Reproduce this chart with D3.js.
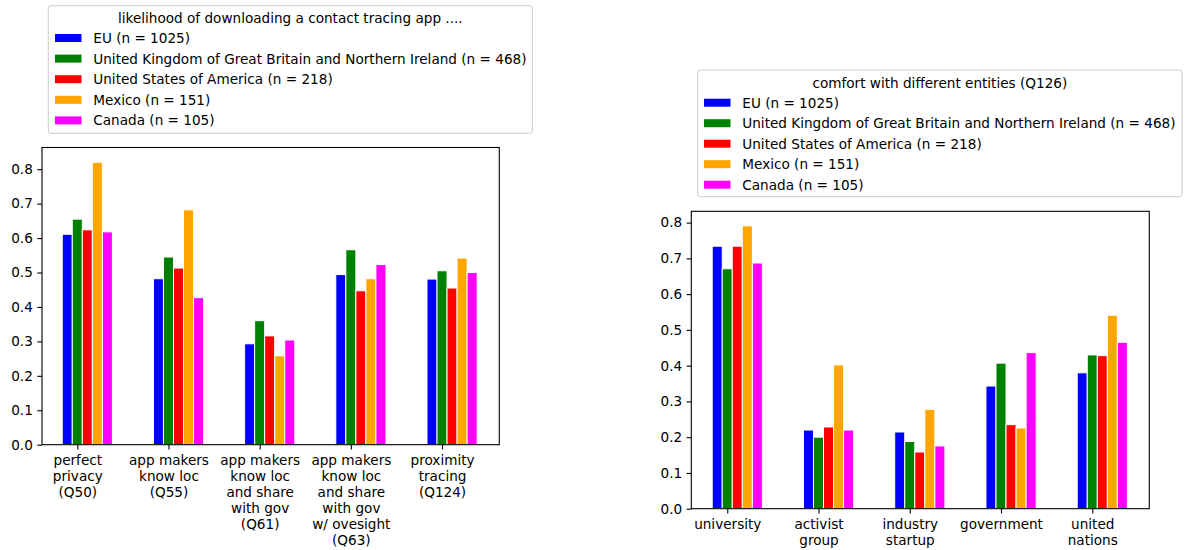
<!DOCTYPE html>
<html>
<head>
<meta charset="utf-8">
<script src="https://cdn.jsdelivr.net/npm/d3@7"></script>
<style>
  html, body { margin: 0; padding: 0; background: #fff; }
  svg text { font-family: "DejaVu Sans", sans-serif; }
</style>
</head>
<body>
<svg id="chart" width="1185" height="550"></svg>
<script>
// ---------- data ----------
const seriesNames = [
  "EU (n = 1025)",
  "United Kingdom of Great Britain and Northern Ireland (n = 468)",
  "United States of America (n = 218)",
  "Mexico (n = 151)",
  "Canada (n = 105)"
];
const seriesColors = ["#0000ff", "#008000", "#ff0000", "#ffa500", "#ff00ff"];

const leftTitle = "likelihood of downloading a contact tracing app ....";
const leftCategories = [
  ["perfect", "privacy", "(Q50)"],
  ["app makers", "know loc", "(Q55)"],
  ["app makers", "know loc", "and share", "with gov", "(Q61)"],
  ["app makers", "know loc", "and share", "with gov", "w/ ovesight", "(Q63)"],
  ["proximity", "tracing", "(Q124)"]
];
// values per series (EU, UK, USA, Mexico, Canada), one entry per category
const leftEU     = [0.611, 0.482, 0.293, 0.494, 0.481];
const leftUK     = [0.655, 0.545, 0.360, 0.566, 0.505];
const leftUSA    = [0.624, 0.513, 0.316, 0.447, 0.455];
const leftMexico = [0.820, 0.682, 0.258, 0.482, 0.542];
const leftCanada = [0.618, 0.427, 0.304, 0.523, 0.500];

const rightTitle = "comfort with different entities (Q126)";
const rightCategories = [
  ["university"],
  ["activist", "group"],
  ["industry", "startup"],
  ["government"],
  ["united", "nations"]
];
const rightEU     = [0.734, 0.220, 0.2145, 0.343, 0.380];
const rightUK     = [0.671, 0.200, 0.188, 0.407, 0.430];
const rightUSA    = [0.734, 0.2285, 0.1585, 0.235, 0.428];
const rightMexico = [0.791, 0.402, 0.278, 0.2257, 0.541];
const rightCanada = [0.687, 0.220, 0.1755, 0.4365, 0.4654];

const yTicks = [0, 0.1, 0.2, 0.3, 0.4, 0.5, 0.6, 0.7, 0.8];

// ---------- drawing ----------
const svg = d3.select("#chart");
const FONT = 13.6;
const BARW = 0.11;

function drawPanel(cfg) {
  const g = svg.append("g");
  const x = d3.scaleLinear().domain(cfg.xDomain).range([cfg.left, cfg.right]);
  const y = d3.scaleLinear().domain([0, cfg.yMax]).range([cfg.bottom, cfg.top]);

  // bars
  cfg.series.forEach((vals, k) => {
    g.append("g").selectAll("rect").data(vals).join("rect")
      .attr("x", (d, i) => x(i + (k - 1) * BARW - BARW / 2))
      .attr("width", x(BARW) - x(0))
      .attr("y", d => y(d))
      .attr("height", d => y(0) - y(d))
      .attr("fill", seriesColors[k])
      .attr("stroke", "#fff")
      .attr("stroke-width", 1);
  });

  // frame
  g.append("rect")
    .attr("x", cfg.left).attr("y", cfg.top)
    .attr("width", cfg.right - cfg.left).attr("height", cfg.bottom - cfg.top)
    .attr("fill", "none").attr("stroke", "#000").attr("stroke-width", 1.1);

  // y axis
  const ya = g.append("g").attr("transform", `translate(${cfg.left},0)`)
    .call(d3.axisLeft(y).tickValues(yTicks).tickFormat(d3.format(".1f"))
      .tickSizeOuter(0).tickSize(4.7).tickPadding(4.5));
  ya.select(".domain").remove();
  ya.selectAll("text").attr("font-size", FONT).attr("fill", "#000").attr("font-family", "DejaVu Sans");
  ya.selectAll("line").attr("stroke", "#000").attr("stroke-width", 1.1);

  // x axis
  const xa = g.append("g").attr("transform", `translate(0,${cfg.bottom})`)
    .call(d3.axisBottom(x).tickValues(d3.range(cfg.categories.length))
      .tickFormat("").tickSizeOuter(0).tickSize(4.7));
  xa.select(".domain").remove();
  xa.selectAll("line").attr("stroke", "#000").attr("stroke-width", 1.1);
  xa.selectAll(".tick").each(function(d) {
    const t = d3.select(this).select("text")
      .attr("font-size", FONT).attr("fill", "#000").attr("font-family", "DejaVu Sans")
      .attr("text-anchor", "middle").attr("y", null).attr("dy", null);
    t.selectAll("tspan").data(cfg.categories[d]).join("tspan")
      .attr("x", 0)
      .attr("y", (s, j) => 20 + j * cfg.lineH)
      .text(s => s);
  });

  // legend
  const L = cfg.legend;
  const lg = svg.append("g");
  lg.append("rect")
    .attr("x", L.x0).attr("y", L.y0)
    .attr("width", L.x1 - L.x0).attr("height", L.y1 - L.y0)
    .attr("rx", 2.5).attr("ry", 2.5)
    .attr("fill", "#fff").attr("fill-opacity", 0.8)
    .attr("stroke", "#cccccc").attr("stroke-width", 1);
  lg.append("text")
    .attr("x", (L.x0 + L.x1) / 2).attr("y", L.titleY)
    .attr("text-anchor", "middle").attr("dominant-baseline", "central")
    .attr("font-size", FONT).attr("fill", "#000")
    .text(cfg.title);
  const rows = lg.selectAll("g.row").data(seriesNames).join("g").attr("class", "row")
    .attr("transform", (d, i) => `translate(0,${L.rowY0 + i * L.rowStep})`);
  rows.append("rect")
    .attr("x", L.patchX).attr("y", -4).attr("width", 26.5).attr("height", 8)
    .attr("fill", (d, i) => seriesColors[i]);
  rows.append("text")
    .attr("x", L.textX).attr("y", 0).attr("dominant-baseline", "central")
    .attr("font-size", FONT).attr("fill", "#000")
    .text(d => d);
}

drawPanel({
  left: 42, right: 499.3, top: 147.5, bottom: 444.7,
  xDomain: [-0.387, 4.628], yMax: 0.863,
  series: [leftEU, leftUK, leftUSA, leftMexico, leftCanada],
  categories: leftCategories, title: leftTitle, lineH: 16,
  legend: { x0: 48.3, x1: 532.3, y0: 5.7, y1: 133.3, titleY: 17.5,
            rowY0: 38, rowStep: 20.6, patchX: 55, textX: 93.3 }
});

drawPanel({
  left: 691.3, right: 1149.3, top: 211.3, bottom: 508.7,
  xDomain: [-0.394, 4.625], yMax: 0.8316,
  series: [rightEU, rightUK, rightUSA, rightMexico, rightCanada],
  categories: rightCategories, title: rightTitle, lineH: 16.5,
  legend: { x0: 697.7, x1: 1182, y0: 70, y1: 196.7, titleY: 82.5,
            rowY0: 102.7, rowStep: 20.5, patchX: 704, textX: 742.3 }
});
</script>
</body>
</html>
